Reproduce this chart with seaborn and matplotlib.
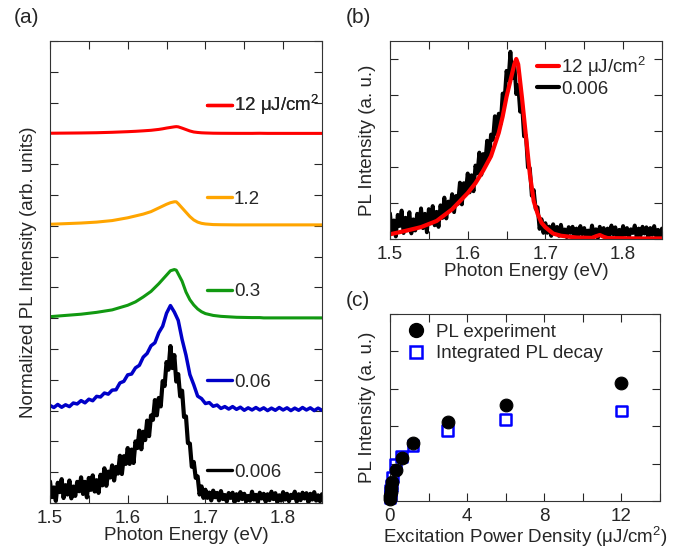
import numpy as np
import matplotlib
matplotlib.use("Agg")
import matplotlib.pyplot as plt
import seaborn as sns
from matplotlib.lines import Line2D
from matplotlib.ticker import MultipleLocator

sns.set_style("ticks")
plt.rcParams["font.family"] = ["Liberation Sans", "DejaVu Sans"]
plt.rcParams["mathtext.fontset"] = "custom"
plt.rcParams["mathtext.rm"] = "Liberation Sans"
plt.rcParams["mathtext.it"] = "Liberation Sans:italic"

# ---- data ----
# fine energy grid of the noisy low-fluence spectra (eV)
e_fine = [
    1.5000, 1.5025, 1.5050, 1.5075, 1.5100, 1.5125, 1.5150, 1.5175, 1.5200, 1.5225,
    1.5250, 1.5275, 1.5300, 1.5325, 1.5350, 1.5375, 1.5400, 1.5425, 1.5450, 1.5475,
    1.5500, 1.5525, 1.5550, 1.5575, 1.5600, 1.5625, 1.5650, 1.5675, 1.5700, 1.5725,
    1.5750, 1.5775, 1.5800, 1.5825, 1.5850, 1.5875, 1.5900, 1.5925, 1.5950, 1.5975,
    1.6000, 1.6025, 1.6050, 1.6075, 1.6100, 1.6125, 1.6150, 1.6175, 1.6200, 1.6225,
    1.6250, 1.6275, 1.6300, 1.6325, 1.6350, 1.6375, 1.6400, 1.6425, 1.6450, 1.6475,
    1.6500, 1.6525, 1.6550, 1.6575, 1.6600, 1.6625, 1.6650, 1.6675, 1.6700, 1.6725,
    1.6750, 1.6775, 1.6800, 1.6825, 1.6850, 1.6875, 1.6900, 1.6925, 1.6950, 1.6975,
    1.7000, 1.7025, 1.7050, 1.7075, 1.7100, 1.7125, 1.7150, 1.7175, 1.7200, 1.7225,
    1.7250, 1.7275, 1.7300, 1.7325, 1.7350, 1.7375, 1.7400, 1.7425, 1.7450, 1.7475,
    1.7500, 1.7525, 1.7550, 1.7575, 1.7600, 1.7625, 1.7650, 1.7675, 1.7700, 1.7725,
    1.7750, 1.7775, 1.7800, 1.7825, 1.7850, 1.7875, 1.7900, 1.7925, 1.7950, 1.7975,
    1.8000, 1.8025, 1.8050, 1.8075, 1.8100, 1.8125, 1.8150, 1.8175, 1.8200, 1.8225,
    1.8250, 1.8275, 1.8300, 1.8325, 1.8350, 1.8375, 1.8400, 1.8425, 1.8450, 1.8475,
    1.8500,
]

# 0.006 uJ/cm2 spectrum, normalised to its peak (as in panel b)
pl_0006 = [
    0.143, 0.039, 0.103, 0.014, 0.134, 0.072, 0.158, 0.033, 0.118, 0.056,
    0.149, 0.031, 0.109, 0.047, 0.140, 0.078, 0.170, 0.060, 0.140, 0.037,
    0.166, 0.087, 0.183, 0.076, 0.151, 0.067, 0.187, 0.117, 0.230, 0.114,
    0.208, 0.169, 0.249, 0.149, 0.239, 0.195, 0.313, 0.192, 0.310, 0.259,
    0.364, 0.259, 0.354, 0.265, 0.408, 0.364, 0.480, 0.356, 0.472, 0.417,
    0.546, 0.443, 0.580, 0.551, 0.682, 0.581, 0.696, 0.640, 0.808, 0.775,
    0.934, 0.883, 1.040, 0.894, 0.980, 0.805, 0.854, 0.707, 0.744, 0.570,
    0.574, 0.397, 0.394, 0.240, 0.272, 0.167, 0.176, 0.056, 0.110, 0.034,
    0.088, 0.034, 0.069, 0.017, 0.082, 0.038, 0.067, 0.017, 0.079, 0.026,
    0.053, 0.010, 0.066, 0.034, 0.068, 0.005, 0.058, 0.019, 0.072, 0.026,
    0.061, 0.012, 0.047, 0.016, 0.075, 0.023, 0.054, 0.005, 0.068, 0.030,
    0.061, 0.009, 0.058, 0.019, 0.075, 0.026, 0.065, 0.005, 0.051, 0.016,
    0.072, 0.023, 0.061, 0.012, 0.054, 0.033, 0.075, 0.009, 0.058, 0.019,
    0.068, 0.030, 0.065, 0.005, 0.061, 0.023, 0.072, 0.016, 0.051, 0.012,
    0.058,
]

# 0.06 uJ/cm2 spectrum (panel a units above its baseline), every second fine point
pl_006 = [
    0.168, 0.100, 0.200, 0.108, 0.188, 0.130, 0.246, 0.216, 0.324, 0.252,
    0.370, 0.320, 0.462, 0.442, 0.570, 0.534, 0.664, 0.676, 0.898, 0.950,
    1.160, 1.188, 1.388, 1.470, 1.736, 1.856, 2.104, 2.202, 2.530, 2.740,
    3.162, 3.410, 3.200, 2.930, 2.310, 1.800, 1.170, 0.840, 0.470, 0.390,
    0.230, 0.260, 0.140, 0.180, 0.070, 0.130, 0.050, 0.130, 0.040, 0.110,
    0.010, 0.090, 0.020, 0.100, 0.020, 0.090, 0.000, 0.080, 0.010, 0.100,
    0.020, 0.090, 0.000, 0.080, 0.010, 0.100, 0.020, 0.090, 0.000, 0.080,
    0.010,
]

# smooth high-fluence spectra
e_smooth = [1.50, 1.52, 1.54, 1.56, 1.58, 1.60, 1.61, 1.62, 1.63, 1.64,
            1.645, 1.65, 1.655, 1.66, 1.6625, 1.665, 1.67, 1.675, 1.68, 1.685,
            1.69, 1.695, 1.70, 1.71, 1.72, 1.74, 1.76, 1.765, 1.77, 1.775,
            1.78, 1.80, 1.82, 1.85]
pl_12 = [0.026, 0.045, 0.066, 0.100, 0.165, 0.255, 0.310, 0.380, 0.460, 0.590,
         0.680, 0.790, 0.880, 0.970, 1.000, 0.970, 0.780, 0.570, 0.360, 0.210,
         0.140, 0.090, 0.065, 0.030, 0.018, 0.008, 0.006, 0.015, 0.022, 0.012,
         0.005, 0.004, 0.003, 0.003]
pl_1_2 = [0.05, 0.07, 0.09, 0.12, 0.17, 0.26, 0.32, 0.38, 0.46, 0.58,
          0.64, 0.70, 0.75, 0.78, 0.78, 0.72, 0.58, 0.44, 0.30, 0.19,
          0.12, 0.08, 0.06, 0.04, 0.035, 0.03, 0.03, 0.03, 0.03, 0.03,
          0.03, 0.03, 0.03, 0.03]
pl_0_3 = [0.05, 0.09, 0.13, 0.19, 0.27, 0.42, 0.53, 0.69, 0.87, 1.12,
          1.26, 1.40, 1.54, 1.58, 1.56, 1.44, 1.20, 0.85, 0.60, 0.43,
          0.30, 0.21, 0.15, 0.09, 0.06, 0.03, 0.02, 0.02, 0.02, 0.01,
          0.01, 0.01, 0.01, 0.01]

# panel (a): normalisation of the two spectra shared with panel (b)
scale_12_a = 0.22
scale_0006_a = 4.9
offsets_a = [0, 3, 6, 9, 12]
labels_a = ["0.006", "0.06", "0.3", "1.2", "12 \u03bcJ/cm$^{2}$"]
colors_a = ["black", "#0000c8", "#119911", "#ffa500", "#ff0000"]

# panel (c): fluence dependence
fluence = [0.006, 0.012, 0.03, 0.06, 0.12, 0.3, 0.6, 1.2, 3, 6, 12]
pl_exp = [0.06, 0.13, 0.24, 0.36, 0.52, 0.83, 1.16, 1.54, 2.12, 2.56, 3.16]
pl_decay = [0.08, 0.16, 0.28, 0.42, 0.64, 0.97, 1.20, 1.48, 1.89, 2.18, 2.41]

FS = 13.5


def style_axes(ax):
    ax.tick_params(direction="in", which="both", top=True, right=True,
                   length=5.5, width=0.8, labelsize=FS, pad=5)
    for s in ax.spines.values():
        s.set_linewidth(0.8)
        s.set_color("#333333")


def tag(ax, color, text, x, y):
    h = Line2D([], [], color=color, lw=2.4)
    leg = ax.legend([h], [text], loc="center left", bbox_to_anchor=(x, y),
                    frameon=False, handlelength=1.35, handletextpad=0.1,
                    borderpad=0, borderaxespad=0, fontsize=FS)
    ax.add_artist(leg)


fig = plt.figure(figsize=(6.82, 5.49), dpi=100)
ax_a = fig.add_axes([0.0733, 0.0838, 0.3988, 0.8415])
ax_b = fig.add_axes([0.5718, 0.5647, 0.3988, 0.3607])
ax_c = fig.add_axes([0.5718, 0.0874, 0.3959, 0.3406])

# ---- (a) stacked spectra ----
curves_a = [
    (e_fine, np.array(pl_0006) * scale_0006_a, 3.0),
    (e_fine[::2], np.array(pl_006), 2.5),
    (e_smooth, np.array(pl_0_3), 2.2),
    (e_smooth, np.array(pl_1_2), 2.2),
    (e_smooth, np.array(pl_12) * scale_12_a, 2.2),
]
for (x, y, lw), off, col in zip(curves_a, offsets_a, colors_a):
    sns.lineplot(x=x, y=y + off, ax=ax_a, color=col, linewidth=lw)

ax_a.set_xlim(1.5, 1.85)
ax_a.set_ylim(0, 15)
ax_a.xaxis.set_major_locator(MultipleLocator(0.1))
ax_a.xaxis.set_minor_locator(MultipleLocator(0.05))
ax_a.yaxis.set_major_locator(MultipleLocator(1))
ax_a.set_yticklabels([])
style_axes(ax_a)
ax_a.set_xlabel("Photon Energy (eV)", fontsize=FS, labelpad=0)
ax_a.set_ylabel("Normalized PL Intensity (arb. units)", fontsize=FS, labelpad=4)

tag_y = [0.067, 0.262, 0.457, 0.658, 0.861]
for col, lab, ty in zip(colors_a, labels_a, tag_y):
    tag(ax_a, col, lab, 0.577, ty)

# ---- (b) normalised comparison ----
sns.lineplot(x=e_fine, y=pl_0006, ax=ax_b, color="black", linewidth=2.8)
sns.lineplot(x=e_smooth, y=pl_12, ax=ax_b, color="#ff0000", linewidth=3.0)
ax_b.set_xlim(1.5, 1.85)
ax_b.set_ylim(0, 1.1)
ax_b.xaxis.set_major_locator(MultipleLocator(0.1))
ax_b.xaxis.set_minor_locator(MultipleLocator(0.05))
ax_b.yaxis.set_major_locator(MultipleLocator(0.2))
ax_b.set_yticklabels([])
style_axes(ax_b)
ax_b.set_xlabel("Photon Energy (eV)", fontsize=FS, labelpad=0)
ax_b.set_ylabel("PL Intensity (a. u.)", fontsize=FS, labelpad=5)
hb = [Line2D([], [], color="#ff0000", lw=3.0), Line2D([], [], color="black", lw=3.0)]
ax_b.legend(hb, ["12 \u03bcJ/cm$^{2}$", "0.006"], loc="upper left",
            bbox_to_anchor=(0.54, 0.93), frameon=False, handlelength=1.2,
            handletextpad=0.1, labelspacing=0.1, borderpad=0,
            borderaxespad=0, fontsize=FS)

# ---- (c) fluence dependence ----
sns.scatterplot(x=fluence, y=pl_decay, ax=ax_c, marker="s", s=60,
                facecolors="none", edgecolor="#0000ff", linewidth=1.8,
                clip_on=False, zorder=3)
sns.scatterplot(x=fluence, y=pl_exp, ax=ax_c, marker="o", s=85,
                color="black", edgecolor="black", clip_on=False, zorder=4)
ax_c.set_xlim(0, 14)
ax_c.set_ylim(0, 5)
ax_c.xaxis.set_major_locator(MultipleLocator(4))
ax_c.xaxis.set_minor_locator(MultipleLocator(2))
ax_c.yaxis.set_major_locator(MultipleLocator(1))
ax_c.set_yticklabels([])
style_axes(ax_c)
ax_c.set_xlabel("Excitation Power Density (\u03bcJ/cm$^{2}$)", fontsize=FS, labelpad=0)
ax_c.set_ylabel("PL Intensity (a. u.)", fontsize=FS, labelpad=5)
hc = [Line2D([], [], ls="none", marker="o", ms=10, color="black"),
      Line2D([], [], ls="none", marker="s", ms=8, mfc="none",
             mec="#0000ff", mew=1.8)]
ax_c.legend(hc, ["PL experiment", "Integrated PL decay"], loc="upper left",
            bbox_to_anchor=(0.06, 0.95), frameon=False, handlelength=1.0,
            handletextpad=0.6, labelspacing=0.25, borderpad=0,
            borderaxespad=0, fontsize=FS)

# panel letters
fig.text(0.020, 0.985, "(a)", fontsize=15, va="top")
fig.text(0.507, 0.985, "(b)", fontsize=15, va="top")
fig.text(0.507, 0.470, "(c)", fontsize=15, va="top")

fig.savefig("out.png", dpi=100)
